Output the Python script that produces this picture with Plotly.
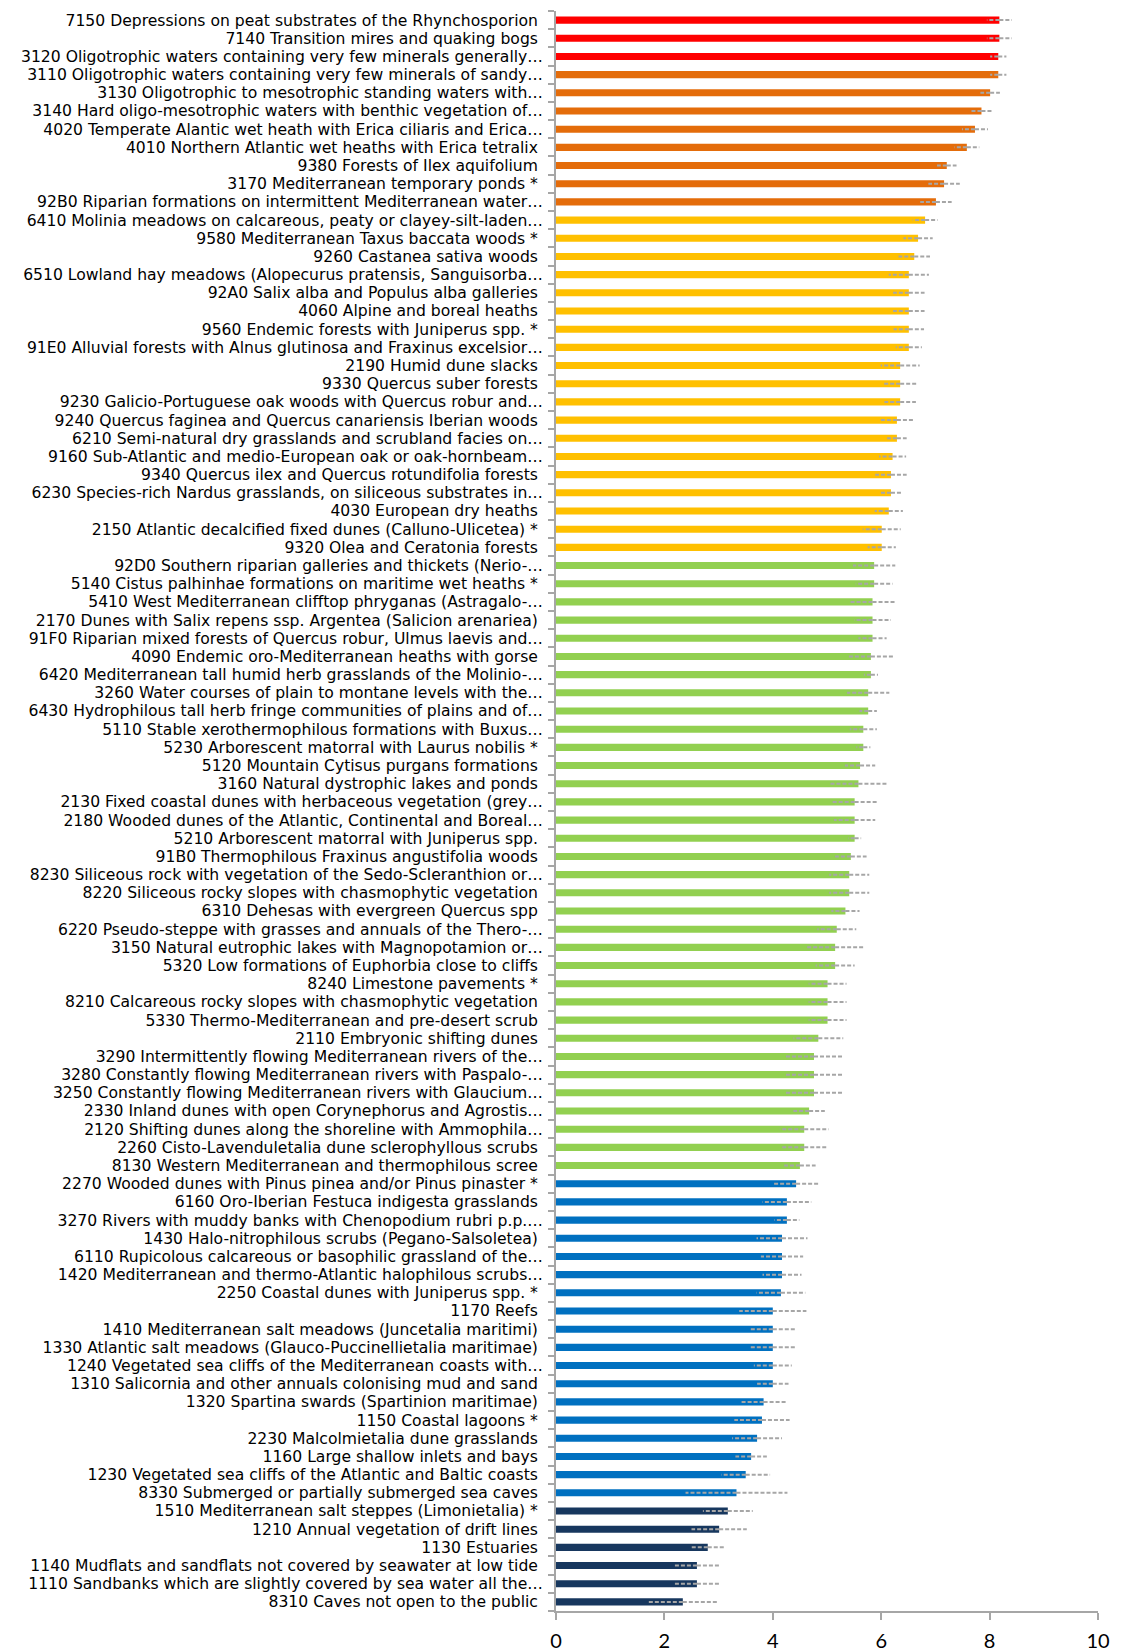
import plotly.graph_objects as go

labels = [
    "7150 Depressions on peat substrates of the Rhynchosporion",
    "7140 Transition mires and quaking bogs",
    "3120 Oligotrophic waters containing very few minerals generally…",
    "3110 Oligotrophic waters containing very few minerals of sandy…",
    "3130 Oligotrophic to mesotrophic standing waters with…",
    "3140 Hard oligo-mesotrophic waters with benthic vegetation of…",
    "4020 Temperate Alantic wet heath with Erica ciliaris and Erica…",
    "4010 Northern Atlantic wet heaths with Erica tetralix",
    "9380 Forests of Ilex aquifolium",
    "3170 Mediterranean temporary ponds *",
    "92B0 Riparian formations on intermittent Mediterranean water…",
    "6410 Molinia meadows on calcareous, peaty or clayey-silt-laden…",
    "9580 Mediterranean Taxus baccata woods *",
    "9260 Castanea sativa woods",
    "6510 Lowland hay meadows (Alopecurus pratensis, Sanguisorba…",
    "92A0 Salix alba and Populus alba galleries",
    "4060 Alpine and boreal heaths",
    "9560 Endemic forests with Juniperus spp. *",
    "91E0 Alluvial forests with Alnus glutinosa and Fraxinus excelsior…",
    "2190 Humid dune slacks",
    "9330 Quercus suber forests",
    "9230 Galicio-Portuguese oak woods with Quercus robur and…",
    "9240 Quercus faginea and Quercus canariensis Iberian woods",
    "6210 Semi-natural dry grasslands and scrubland facies on…",
    "9160 Sub-Atlantic and medio-European oak or oak-hornbeam…",
    "9340 Quercus ilex and Quercus rotundifolia forests",
    "6230 Species-rich Nardus grasslands, on siliceous substrates in…",
    "4030 European dry heaths",
    "2150 Atlantic decalcified fixed dunes (Calluno-Ulicetea) *",
    "9320 Olea and Ceratonia forests",
    "92D0 Southern riparian galleries and thickets (Nerio-…",
    "5140 Cistus palhinhae formations on maritime wet heaths *",
    "5410 West Mediterranean clifftop phryganas (Astragalo-…",
    "2170 Dunes with Salix repens ssp. Argentea (Salicion arenariea)",
    "91F0 Riparian mixed forests of Quercus robur, Ulmus laevis and…",
    "4090 Endemic oro-Mediterranean heaths with gorse",
    "6420 Mediterranean tall humid herb grasslands of the Molinio-…",
    "3260 Water courses of plain to montane levels with the…",
    "6430 Hydrophilous tall herb fringe communities of plains and of…",
    "5110 Stable xerothermophilous formations with Buxus…",
    "5230 Arborescent matorral with Laurus nobilis *",
    "5120 Mountain Cytisus purgans formations",
    "3160 Natural dystrophic lakes and ponds",
    "2130 Fixed coastal dunes with herbaceous vegetation (grey…",
    "2180 Wooded dunes of the Atlantic, Continental and Boreal…",
    "5210 Arborescent matorral with Juniperus spp.",
    "91B0 Thermophilous Fraxinus angustifolia woods",
    "8230 Siliceous rock with vegetation of the Sedo-Scleranthion or…",
    "8220 Siliceous rocky slopes with chasmophytic vegetation",
    "6310 Dehesas with evergreen Quercus spp",
    "6220 Pseudo-steppe with grasses and annuals of the Thero-…",
    "3150 Natural eutrophic lakes with Magnopotamion or…",
    "5320 Low formations of Euphorbia close to cliffs",
    "8240 Limestone pavements *",
    "8210 Calcareous rocky slopes with chasmophytic vegetation",
    "5330 Thermo-Mediterranean and pre-desert scrub",
    "2110 Embryonic shifting dunes",
    "3290 Intermittently flowing Mediterranean rivers of the…",
    "3280 Constantly flowing Mediterranean rivers with Paspalo-…",
    "3250 Constantly flowing Mediterranean rivers with Glaucium…",
    "2330 Inland dunes with open Corynephorus and Agrostis…",
    "2120 Shifting dunes along the shoreline with Ammophila…",
    "2260 Cisto-Lavenduletalia dune sclerophyllous scrubs",
    "8130 Western Mediterranean and thermophilous scree",
    "2270 Wooded dunes with Pinus pinea and/or Pinus pinaster *",
    "6160 Oro-Iberian Festuca indigesta grasslands",
    "3270 Rivers with muddy banks with Chenopodium rubri p.p.…",
    "1430 Halo-nitrophilous scrubs (Pegano-Salsoletea)",
    "6110 Rupicolous calcareous or basophilic grassland of the…",
    "1420 Mediterranean and thermo-Atlantic halophilous scrubs…",
    "2250 Coastal dunes with Juniperus spp. *",
    "1170 Reefs",
    "1410 Mediterranean salt meadows (Juncetalia maritimi)",
    "1330 Atlantic salt meadows (Glauco-Puccinellietalia maritimae)",
    "1240 Vegetated sea cliffs of the Mediterranean coasts with…",
    "1310 Salicornia and other annuals colonising mud and sand",
    "1320 Spartina swards (Spartinion maritimae)",
    "1150 Coastal lagoons *",
    "2230 Malcolmietalia dune grasslands",
    "1160 Large shallow inlets and bays",
    "1230 Vegetated sea cliffs of the Atlantic and Baltic coasts",
    "8330 Submerged or partially submerged sea caves",
    "1510 Mediterranean salt steppes (Limonietalia) *",
    "1210 Annual vegetation of drift lines",
    "1130 Estuaries",
    "1140 Mudflats and sandflats not covered by seawater at low tide",
    "1110 Sandbanks which are slightly covered by sea water all the…",
    "8310 Caves not open to the public",
]

values = [
    8.18, 8.18, 8.16, 8.16, 8.01, 7.85, 7.73, 7.58, 7.21, 7.16, 7.01,
    6.81, 6.68, 6.61, 6.51, 6.51, 6.51, 6.51, 6.51, 6.35, 6.35, 6.35, 6.29,
    6.29, 6.21, 6.18, 6.18, 6.14, 6.01, 6.01,
    5.87, 5.87, 5.84, 5.84, 5.84, 5.81, 5.81, 5.76, 5.76, 5.67, 5.67, 5.61,
    5.58, 5.51, 5.51, 5.51, 5.44, 5.41, 5.41, 5.34, 5.18, 5.15, 5.15, 5.01,
    5.01, 5.01, 4.84, 4.76, 4.76, 4.76, 4.67, 4.58, 4.58, 4.50,
    4.43, 4.26, 4.26, 4.17, 4.17, 4.17, 4.15, 4.00, 4.00, 4.00, 4.00, 4.00,
    3.83, 3.80, 3.71, 3.60, 3.50, 3.33,
    3.17, 3.01, 2.80, 2.60, 2.60, 2.34,
]

errors = [
    0.23, 0.23, 0.15, 0.15, 0.18, 0.21, 0.24, 0.23, 0.18, 0.29, 0.29,
    0.23, 0.27, 0.29, 0.37, 0.29, 0.29, 0.28, 0.24, 0.36, 0.30, 0.29, 0.33,
    0.18, 0.25, 0.29, 0.22, 0.26, 0.35, 0.26,
    0.39, 0.34, 0.41, 0.34, 0.26, 0.44, 0.13, 0.39, 0.16, 0.25, 0.13, 0.28,
    0.55, 0.42, 0.38, 0.12, 0.29, 0.37, 0.37, 0.26, 0.36, 0.52, 0.36, 0.35,
    0.35, 0.35, 0.46, 0.53, 0.53, 0.53, 0.29, 0.45, 0.43, 0.29,
    0.41, 0.45, 0.23, 0.47, 0.39, 0.36, 0.45, 0.62, 0.42, 0.42, 0.35, 0.29,
    0.42, 0.51, 0.46, 0.29, 0.45, 0.94,
    0.46, 0.51, 0.30, 0.44, 0.44, 0.66,
]

groups = (["red"] * 3 + ["orange"] * 8 + ["yellow"] * 19 + ["green"] * 34
          + ["blue"] * 18 + ["navy"] * 6)

group_colors = {
    "red": "#FF0000",
    "orange": "#E46C0A",
    "yellow": "#FFC000",
    "green": "#92D050",
    "blue": "#0070C0",
    "navy": "#17375E",
}

x_ticks = [0, 2, 4, 6, 8, 10]

# trailing non-breaking space on untruncated labels (as in the original axis)
disp = [l if l.endswith("…") else l + "\u00a0" for l in labels]
n = len(disp)

fig = go.Figure()
fig.add_trace(go.Bar(
    y=disp, x=values, orientation="h",
    marker=dict(color=[group_colors[g] for g in groups], line=dict(width=0)),
    width=0.39, showlegend=False, hoverinfo="x+y",
))

# dashed error bars drawn from the bar end outward in both directions
ex, ey = [], []
for lab, v, e in zip(disp, values, errors):
    ex += [v, v + e, None, v, v - e, None]
    ey += [lab, lab, None, lab, lab, None]
fig.add_trace(go.Scatter(
    x=ex, y=ey, mode="lines", showlegend=False, hoverinfo="skip",
    line=dict(color="#A6A6A6", width=2, dash="4px,2px"),
    connectgaps=False,
))

# page body has an 8px default margin: figure is sized/offset to compensate
fig.update_layout(
    width=1121, height=1644,
    margin=dict(l=548, r=31, t=3, b=41),
    paper_bgcolor="white", plot_bgcolor="white",
    font=dict(family="DejaVu Sans, sans-serif", color="#000000"),
)
fig.update_yaxes(
    type="category", categoryorder="array", categoryarray=disp,
    range=[n - 0.5, -0.5], autorange=False, automargin=False,
    tickmode="array", tickvals=disp, ticktext=disp,
    showline=True, linecolor="#A6A6A6", linewidth=2,
    ticks="outside", ticklen=6, tickcolor="#A6A6A6", tickwidth=2,
    tickson="boundaries", showgrid=False,
    tickfont=dict(size=15.6, family="DejaVu Sans, sans-serif", color="#000000"),
    ticklabelstandoff=8,
)
fig.update_xaxes(
    range=[0, 10], tickvals=x_ticks, ticktext=[str(t) for t in x_ticks],
    showline=True, linecolor="#A6A6A6", linewidth=2,
    ticks="outside", ticklen=7, tickcolor="#A6A6A6", tickwidth=2,
    showgrid=False, zeroline=False, automargin=False,
    tickfont=dict(size=20, family="Lato, sans-serif", color="#000000"),
    ticklabelstandoff=4,
)

fig.write_html("out.html")
